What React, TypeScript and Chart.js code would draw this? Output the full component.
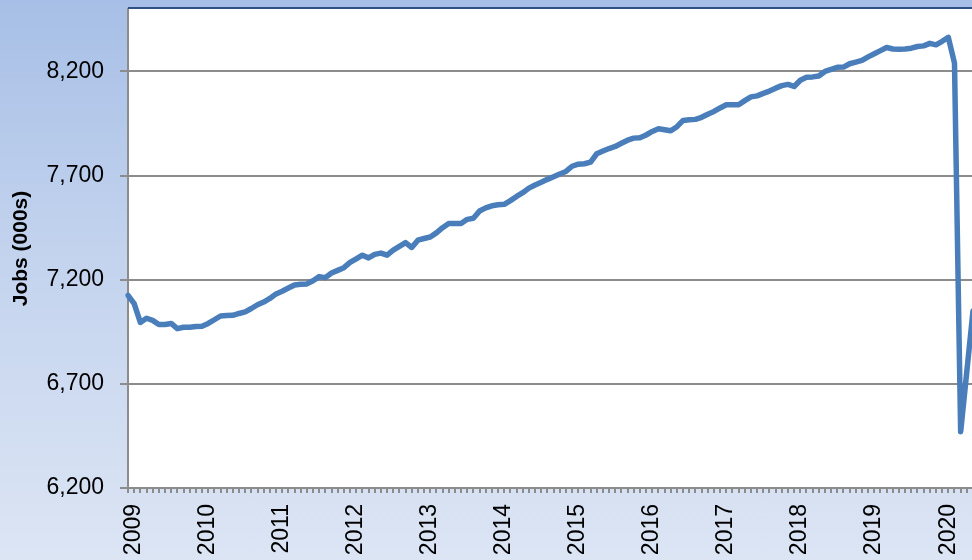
import React, { useEffect, useRef } from "react";
import { Chart, registerables } from "chart.js";

Chart.register(...registerables);

// categories
const years = [2009, 2010, 2011, 2012, 2013, 2014, 2015, 2016, 2017, 2018, 2019, 2020];
const monthNames = ["Jan", "Feb", "Mar", "Apr", "May", "Jun", "Jul", "Aug", "Sep", "Oct", "Nov", "Dec"];

// jobs (000s)
const jobs2009 = [7125, 7085, 6995, 7015, 7005, 6985, 6985, 6990, 6965, 6972, 6972, 6975];
const jobs2010 = [6977, 6990, 7008, 7026, 7028, 7029, 7038, 7046, 7062, 7080, 7093, 7110];
const jobs2011 = [7132, 7145, 7160, 7175, 7178, 7180, 7195, 7215, 7210, 7232, 7245, 7258];
const jobs2012 = [7283, 7300, 7318, 7305, 7322, 7328, 7318, 7342, 7360, 7378, 7355, 7390];
const jobs2013 = [7398, 7405, 7425, 7450, 7470, 7470, 7470, 7490, 7495, 7530, 7545, 7555];
const jobs2014 = [7560, 7562, 7580, 7600, 7618, 7640, 7655, 7668, 7682, 7695, 7708, 7720];
const jobs2015 = [7745, 7755, 7757, 7765, 7805, 7818, 7830, 7840, 7855, 7870, 7880, 7882];
const jobs2016 = [7895, 7912, 7925, 7920, 7915, 7935, 7965, 7968, 7970, 7980, 7995, 8008];
const jobs2017 = [8025, 8040, 8040, 8040, 8060, 8078, 8083, 8095, 8106, 8120, 8132, 8138];
const jobs2018 = [8128, 8158, 8172, 8174, 8178, 8200, 8210, 8220, 8221, 8237, 8245, 8253];
const jobs2019 = [8270, 8285, 8300, 8315, 8308, 8307, 8308, 8312, 8320, 8323, 8335, 8328];
const jobs2020 = [8345, 8364, 8240, 6470, 6760, 7050];

const jobs = [
  ...jobs2009, ...jobs2010, ...jobs2011, ...jobs2012, ...jobs2013, ...jobs2014,
  ...jobs2015, ...jobs2016, ...jobs2017, ...jobs2018, ...jobs2019, ...jobs2020,
];
const labels = jobs.map((_, i) => `${monthNames[i % 12]} ${years[Math.floor(i / 12)]}`);

const yTicks = [6200, 6700, 7200, 7700, 8200];

const FONT = "'Liberation Sans', Arial, sans-serif";

// white plot area + dark top border like the Excel original
const plotFrame = {
  id: "plotFrame",
  beforeDraw(chart: any) {
    const { ctx, chartArea: a } = chart;
    ctx.save();
    ctx.fillStyle = "#ffffff";
    ctx.fillRect(a.left, a.top, a.right - a.left, a.bottom - a.top);
    ctx.restore();
  },
  afterDraw(chart: any) {
    const { ctx, chartArea: a, width } = chart;
    ctx.save();
    ctx.strokeStyle = "#2E5082";
    ctx.lineWidth = 2;
    ctx.beginPath();
    ctx.moveTo(a.left, a.top - 1);
    ctx.lineTo(width, a.top - 1);
    ctx.stroke();
    ctx.restore();
  },
};

const JobsChart: React.FC = () => {
  const chartRef = useRef<HTMLCanvasElement | null>(null);

  useEffect(() => {
    if (!chartRef.current) return;
    const ctx = chartRef.current.getContext("2d");
    if (!ctx) return;

    const chart = new Chart(ctx, {
      type: "line",
      data: {
        labels,
        datasets: [
          {
            data: jobs,
            borderColor: "#4A7EBB",
            borderWidth: 5.5,
            pointRadius: 0,
            tension: 0,
            borderJoinStyle: "round",
            borderCapStyle: "round",
            fill: false,
          },
        ],
      },
      options: {
        animation: false,
        responsive: false,
        layout: { padding: { top: 9, right: 7, left: 0, bottom: 0 } },
        plugins: {
          legend: { display: false },
          tooltip: { enabled: false },
        },
        scales: {
          x: {
            type: "category",
            offset: false,
            grid: {
              display: true,
              drawOnChartArea: false,
              drawTicks: true,
              tickLength: 5,
              color: "#8c8c8c",
              lineWidth: 2,
            },
            border: { display: true, color: "#8c8c8c", width: 2 },
            ticks: {
              autoSkip: false,
              maxRotation: 90,
              minRotation: 90,
              padding: 11,
              labelOffset: 6,
              color: "#000",
              font: { family: FONT, size: 23 },
              callback: (_v: any, i: number) => (i % 12 === 0 ? String(years[i / 12]) : ""),
            },
            afterFit: (s: any) => {
              s.height = 72;
              s.paddingLeft = 0;
              s.paddingRight = 0;
            },
          },
          y: {
            min: 6200,
            max: 8500,
            afterBuildTicks: (s: any) => {
              s.ticks = yTicks.map((v) => ({ value: v }));
            },
            grid: { color: "#8c8c8c", lineWidth: 2, tickLength: 8, drawTicks: true },
            border: { display: true, color: "#8c8c8c", width: 2 },
            ticks: {
              padding: 16,
              color: "#000",
              font: { family: FONT, size: 23 },
              callback: (v: any) => Number(v).toLocaleString("en-US"),
            },
            title: {
              display: true,
              text: "Jobs (000s)",
              color: "#000",
              font: { family: FONT, size: 21, weight: "bold" },
              padding: { top: 9, bottom: 0 },
            },
            afterFit: (s: any) => {
              s.width = 128;
              s.paddingTop = 0;
              s.paddingBottom = 0;
            },
          },
        },
      },
      plugins: [plotFrame],
    });

    return () => {
      chart.destroy();
    };
  }, []);

  return <canvas ref={chartRef} width={980} height={560} style={{ display: "block" }} />;
};

const App: React.FC = () => {
  return (
    <div
      style={{
        position: "fixed",
        left: 0,
        top: 0,
        width: 972,
        height: 560,
        overflow: "hidden",
        background: "linear-gradient(180deg, #A7BFE6 0%, #C3D3EE 45%, #DCE5F4 100%)",
      }}
    >
      <JobsChart />
    </div>
  );
};

export default App;
